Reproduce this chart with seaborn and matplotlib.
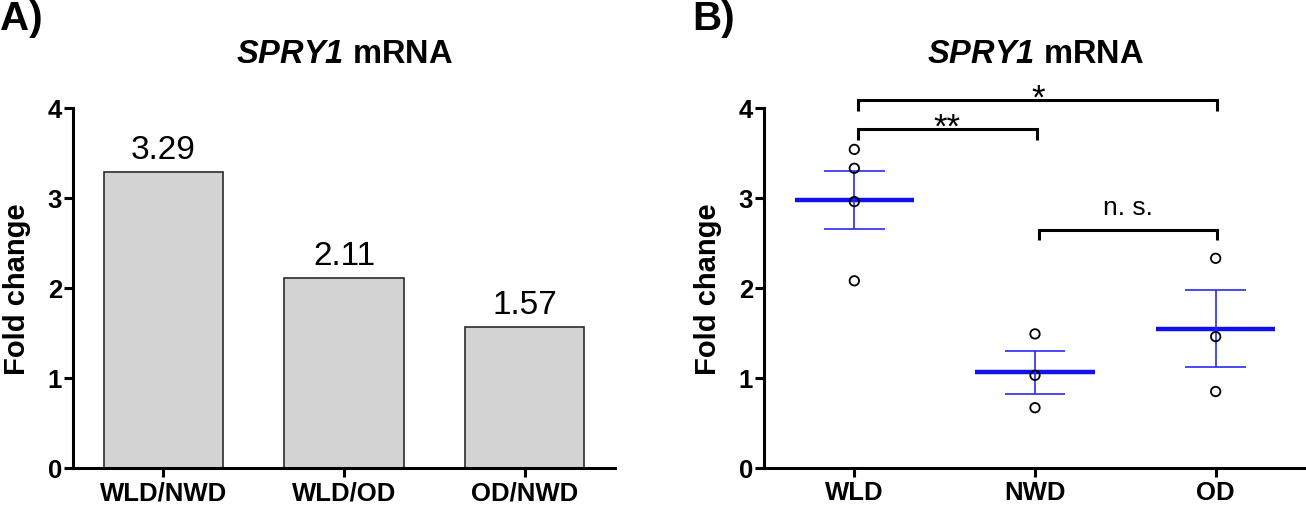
import numpy as np
import pandas as pd
import seaborn as sns
import matplotlib.pyplot as plt

# panel A: ratios of group means
ratio_labels = ["WLD/NWD", "WLD/OD", "OD/NWD"]
ratio_values = [3.29, 2.11, 1.57]

# panel B: individual fold changes per group
groups = ["WLD", "NWD", "OD"]
wld_values = [3.54, 3.33, 2.96, 2.08]
nwd_values = [1.49, 1.03, 0.67]
od_values = [2.33, 1.46, 0.85]

y_ticks = [0, 1, 2, 3, 4]

# significance brackets: left group, right group, height, label
brackets = [
    ("WLD", "OD", 4.09, "*"),
    ("WLD", "NWD", 3.77, "**"),
    ("NWD", "OD", 2.65, "n. s."),
]

sns.set_style("ticks")
plt.rcParams["font.family"] = ["Liberation Sans", "DejaVu Sans"]
plt.rcParams["font.weight"] = "bold"
plt.rcParams["axes.titleweight"] = "bold"
plt.rcParams["axes.labelweight"] = "bold"
plt.rcParams["mathtext.fontset"] = "custom"
plt.rcParams["mathtext.bfit"] = "Liberation Sans:italic:bold"
for key in ("text.color", "axes.labelcolor", "axes.edgecolor", "xtick.color", "ytick.color"):
    plt.rcParams[key] = "black"

W, H = 1306, 506
fig = plt.figure(figsize=(W / 100, H / 100), dpi=100)
ax_a = fig.add_axes([73 / W, 1 - 469 / H, 542 / W, 360 / H])
ax_b = fig.add_axes([764 / W, 1 - 469 / H, 542 / W, 360 / H])

# ---- A) bars
sns.barplot(x=ratio_labels, y=ratio_values, color="#d3d3d3", saturation=1,
            width=0.66, edgecolor="#2b2b2b", linewidth=1.2, ax=ax_a)
ax_a.bar_label(ax_a.containers[0], fmt="%.2f", padding=5, fontsize=24,
               fontweight="normal", color="black")

# ---- B) scatter with mean +/- SEM
df = pd.DataFrame({
    "group": ["WLD"] * len(wld_values) + ["NWD"] * len(nwd_values) + ["OD"] * len(od_values),
    "fold": wld_values + nwd_values + od_values,
})
summary = df.groupby("group")["fold"].agg(["mean", "sem"]).reindex(groups)
pos = np.arange(len(groups))

ax_b.hlines(summary["mean"], pos - 0.33, pos + 0.33, color="#1010f0", lw=3.2, zorder=2)
ax_b.vlines(pos, summary["mean"] - summary["sem"], summary["mean"] + summary["sem"],
            color="#2a2af5", lw=1.2, zorder=2)
for sign in (-1, 1):
    ax_b.hlines(summary["mean"] + sign * summary["sem"], pos - 0.167, pos + 0.167,
                color="#2a2af5", lw=1.2, zorder=2)

sns.stripplot(data=df, x="group", y="fold", order=groups, jitter=False,
              size=6.8, linewidth=1.3, color="black", ax=ax_b, zorder=3)
for coll in ax_b.collections:
    if coll.get_offsets().shape[0] > 0 and coll.get_zorder() == 3:
        coll.set_facecolor("none")
        coll.set_edgecolor("black")

xpos = {g: i for i, g in enumerate(groups)}
for g1, g2, h, lab in brackets:
    x1, x2 = xpos[g1] + 0.02, xpos[g2] + 0.01
    ax_b.plot([x1, x1, x2, x2], [h - 0.12, h, h, h - 0.12], color="black",
              lw=2.2, clip_on=False, solid_capstyle="butt", solid_joinstyle="miter")
    if "*" in lab:
        ax_b.text((x1 + x2) / 2, h - 0.09, lab, ha="center", va="baseline",
                  fontsize=25, fontweight="normal")
    else:
        ax_b.text((x1 + x2) / 2, h + 0.17, lab, ha="center", va="baseline",
                  fontsize=19, fontweight="normal")

# ---- shared styling
for ax in (ax_a, ax_b):
    ax.set_xlim(-0.5, 2.5)
    ax.set_ylim(0, 4)
    ax.set_yticks(y_ticks)
    ax.set_xlabel("")
    ax.set_ylabel("Fold change", fontsize=21)
    ax.yaxis.set_label_coords(-0.0775, 0.5)
    ax.set_title(r"$\mathbfit{SPRY1}$ mRNA", fontsize=23.5, pad=33)
    for side in ("top", "right"):
        ax.spines[side].set_visible(False)
    for side in ("left", "bottom"):
        ax.spines[side].set_linewidth(2.2)
    ax.tick_params(axis="both", width=2.2, length=6.5, labelsize=18.5, colors="black")
    ax.tick_params(axis="x", pad=2.5)
    ax.tick_params(axis="y", pad=1.5)
    for lbl in ax.get_xticklabels() + ax.get_yticklabels():
        lbl.set_fontweight("bold")

fig.text(0.0, 1.0, "A)", fontsize=29, fontweight="bold", va="top", ha="left")
fig.text(692 / W, 1.0, "B)", fontsize=29, fontweight="bold", va="top", ha="left")

fig.savefig("out.png", dpi=100)
